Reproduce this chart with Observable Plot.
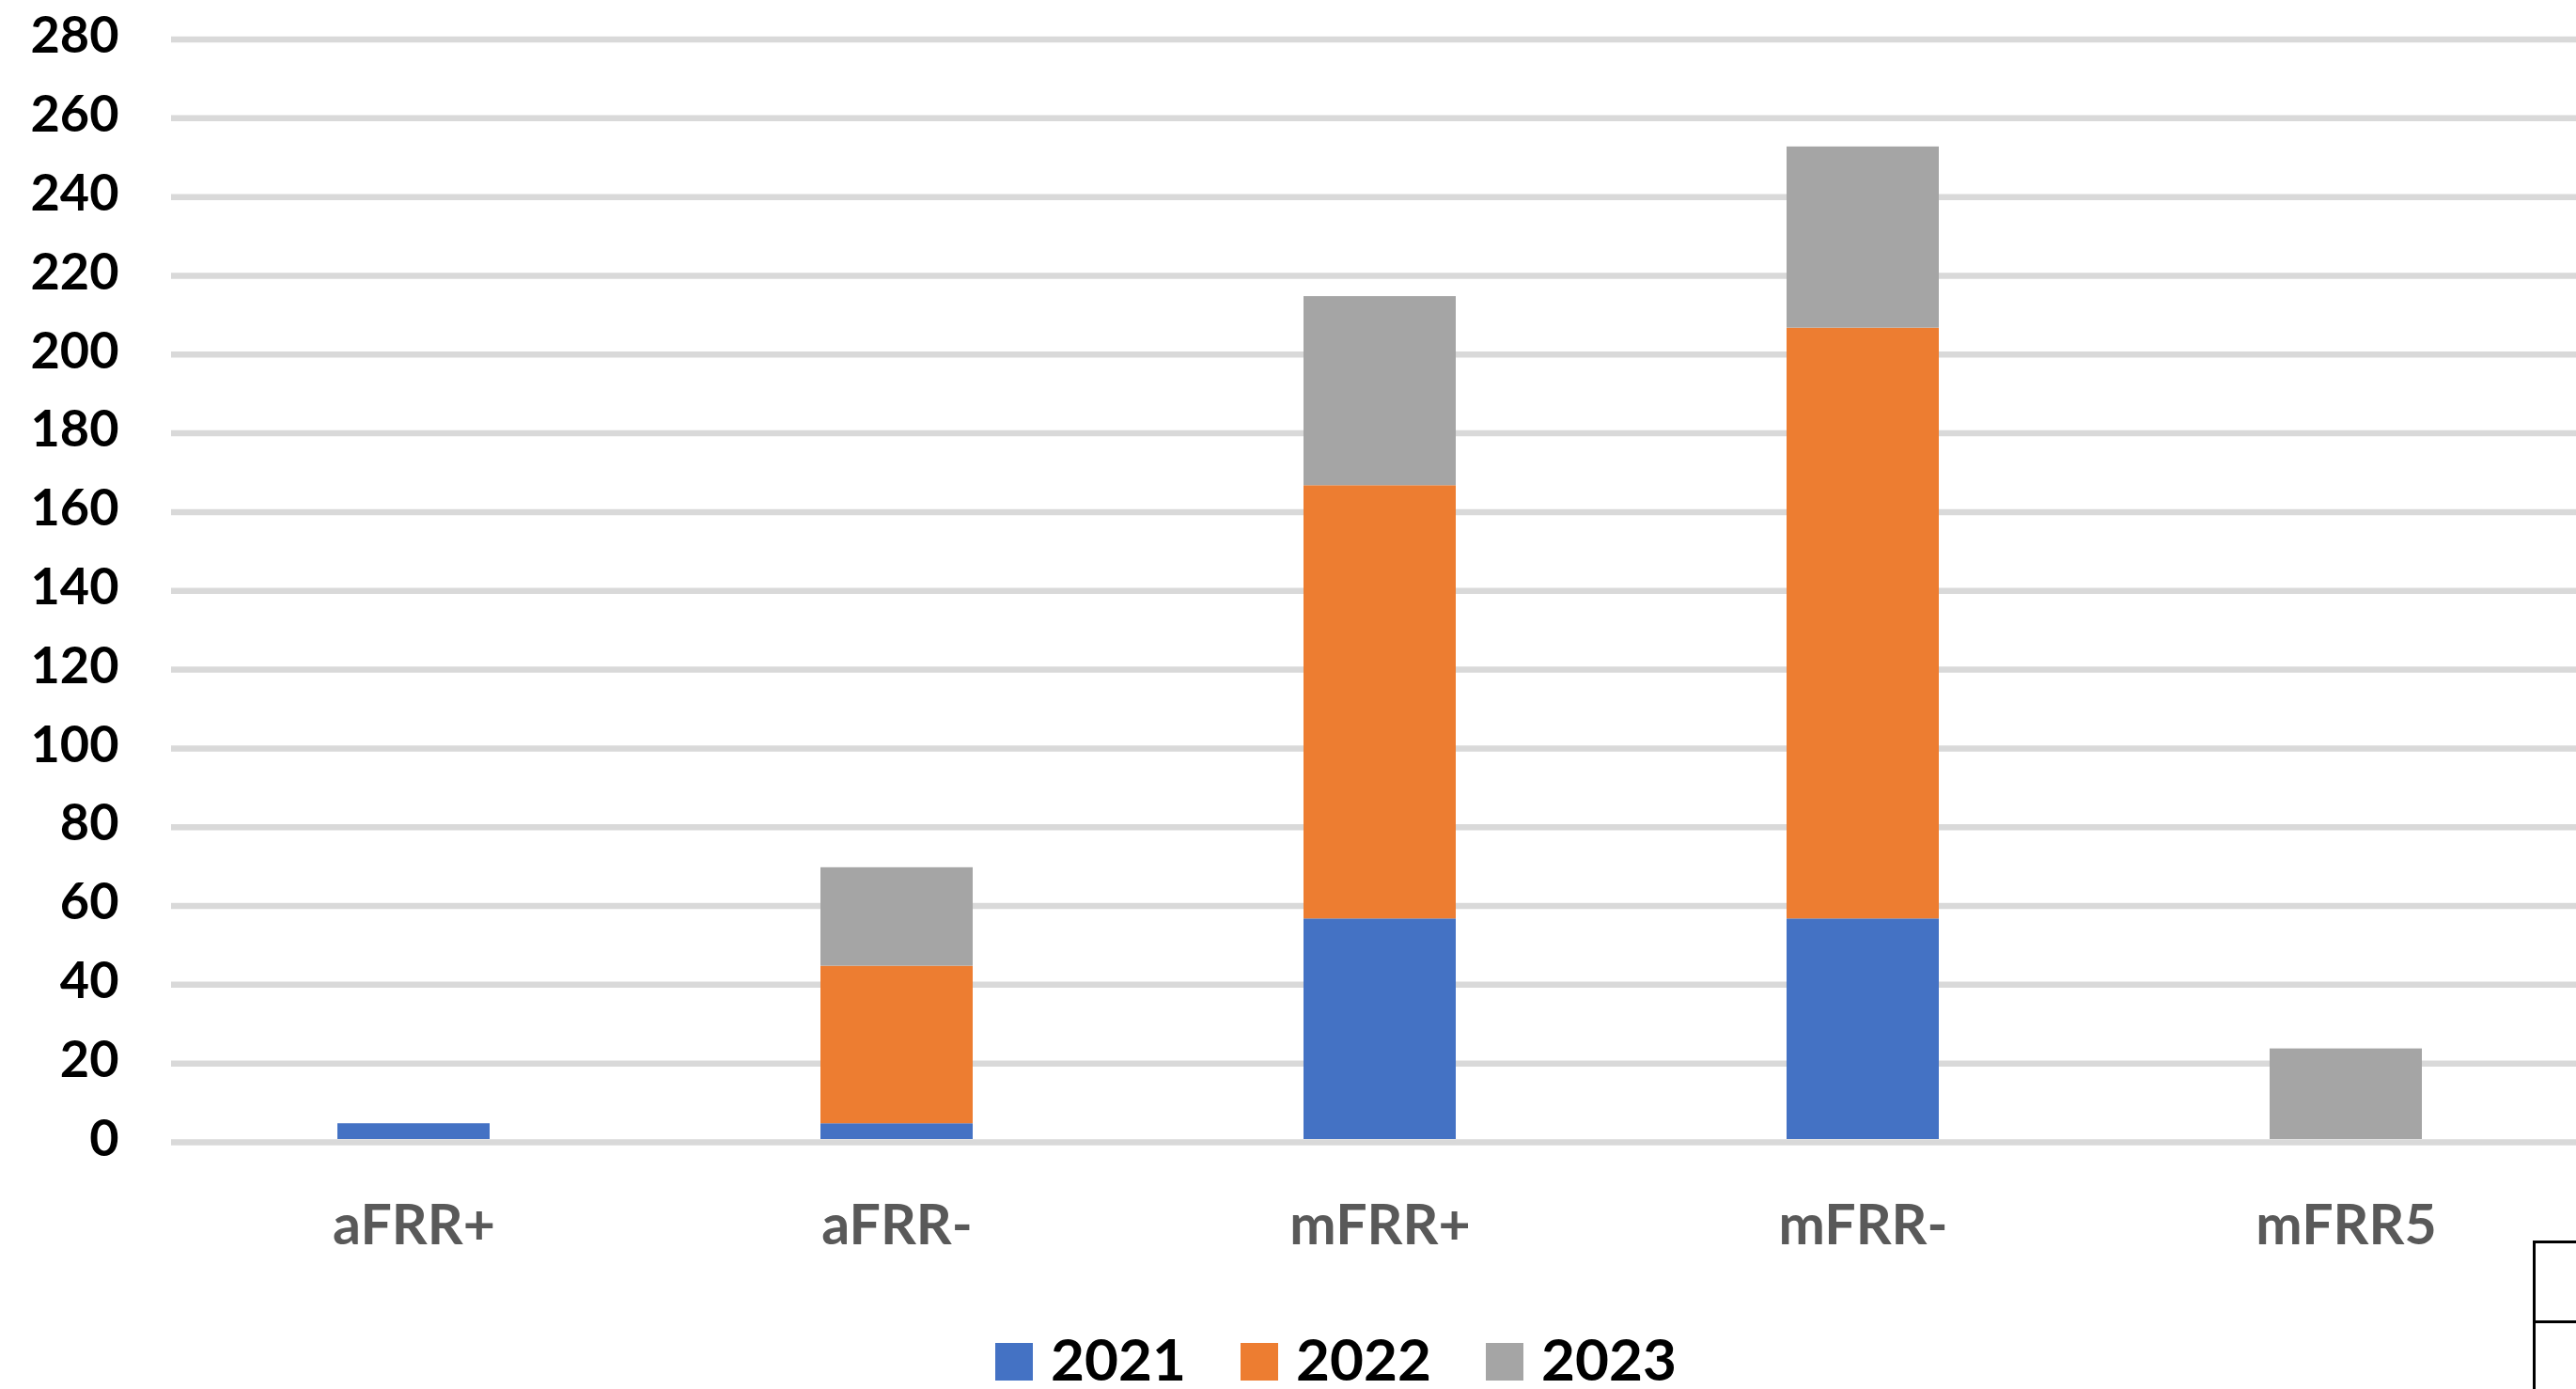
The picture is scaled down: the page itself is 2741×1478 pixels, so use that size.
<!DOCTYPE html>
<html>
<head>
<meta charset="utf-8">
<script src="https://cdn.jsdelivr.net/npm/d3@7"></script>
<script src="https://cdn.jsdelivr.net/npm/@observablehq/plot@0.6"></script>
<style>
  html, body { margin: 0; padding: 0; background: #fff; overflow: hidden; }
  #chart { position: relative; width: 2741px; height: 1478px; }
  #chart svg { display: block; max-width: none !important; }
  #legend {
    position: absolute; left: 1059px; top: 1424px;
    font-family: Lato, sans-serif; font-weight: 700; font-size: 62px; line-height: 42px;
    white-space: nowrap; color: #000;
  }
  #legend .item { display: inline-block; width: 261px; }
  #legend .sw { display: inline-block; width: 40px; height: 40px; margin-right: 19px; }
  .cell-border { position: absolute; left: 2695px; width: 60px; border-top: 3.5px solid #000; }
  .cell-border.upper { top: 1320px; height: 200px; border-left: 3.5px solid #000; }
  .cell-border.mid { top: 1405px; height: 0; }
</style>
</head>
<body>
<div id="chart"></div>
<script>
// Reserve categories and yearly volumes (stacked per category)
const categories = ["aFRR+", "aFRR-", "mFRR+", "mFRR-", "mFRR5"];
const years = ["2021", "2022", "2023"];
const values2021 = [4, 4, 56, 56, 0];
const values2022 = [0, 40, 110, 150, 0];
const values2023 = [0, 25, 48, 46, 23];
const yearColors = ["#4472C4", "#ED7D31", "#A5A5A5"];
const yTicks = d3.range(0, 281, 20);

const series = [values2021, values2022, values2023];
const rows = [];
years.forEach((year, k) => {
  categories.forEach((category, i) => {
    const value = series[k][i];
    if (value > 0) rows.push({category, year, value});
  });
});

const chart = Plot.plot({
  width: 2753,
  height: 1400,
  marginLeft: 182,
  marginRight: 0,
  marginTop: 38.5,
  marginBottom: 188,
  style: {fontFamily: "Lato, sans-serif", fontWeight: "bold", background: "#fff", overflow: "visible", maxWidth: "none"},
  x: {domain: categories, paddingInner: 0.685, paddingOuter: 0.3425, label: null},
  y: {domain: [0, 280], label: null},
  color: {domain: years, range: yearColors},
  marks: [
    Plot.ruleY(yTicks, {stroke: "#d9d9d9", strokeWidth: 6.5, dy: 3}),
    Plot.barY(rows, {x: "category", y: "value", fill: "year"}),
    Plot.axisY({ticks: yTicks, tickSize: 0, tickPadding: 56, fontSize: 54, fontWeight: "bold", color: "#000", label: null}),
    Plot.axisX({tickSize: 0, tickPadding: 70, fontSize: 59, fontWeight: "bold", color: "#595959", label: null})
  ]
});

const root = document.getElementById("chart");
root.appendChild(chart);

// Legend below the plot
const legend = document.createElement("div");
legend.id = "legend";
years.forEach((year, k) => {
  const item = document.createElement("span");
  item.className = "item";
  const sw = document.createElement("span");
  sw.className = "sw";
  sw.style.background = yearColors[k];
  item.appendChild(sw);
  item.appendChild(document.createTextNode(year));
  legend.appendChild(item);
});
root.appendChild(legend);

// Border of the adjoining table cell at the lower right
const upperBorder = document.createElement("div");
upperBorder.className = "cell-border upper";
root.appendChild(upperBorder);
const midBorder = document.createElement("div");
midBorder.className = "cell-border mid";
root.appendChild(midBorder);
</script>
</body>
</html>
